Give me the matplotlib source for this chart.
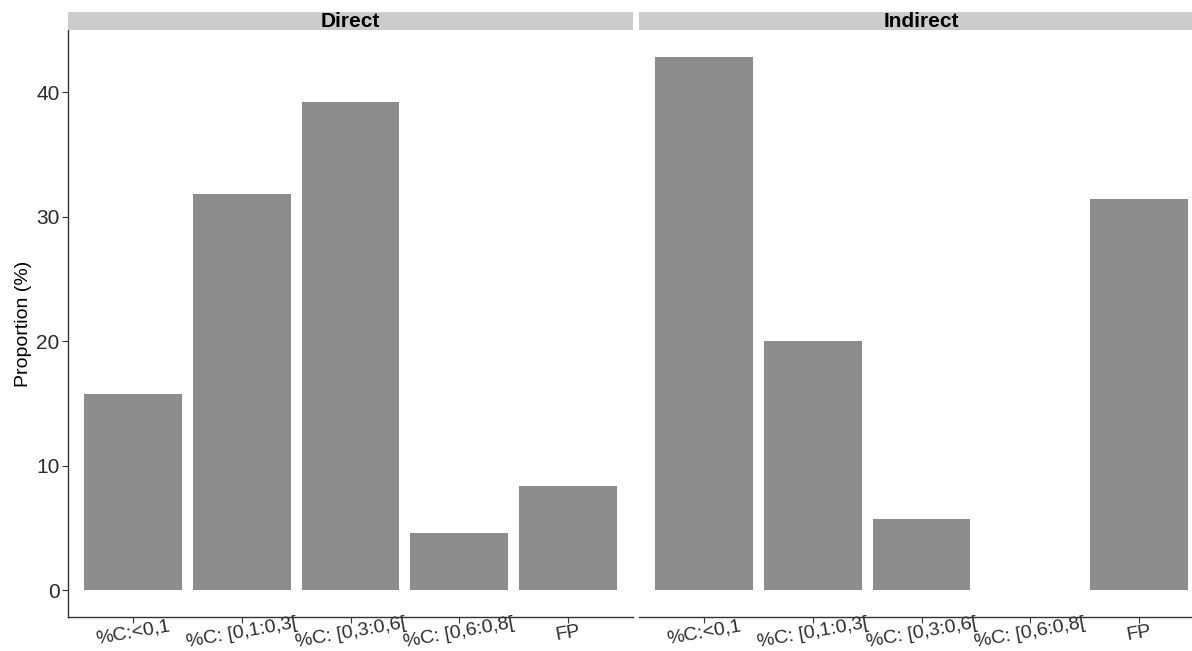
#!/usr/bin/env python3
# Barras de proporción por categoría, facetas Direct / Indirect
import matplotlib
matplotlib.use('Agg')
import matplotlib.pyplot as plt

plt.rcParams['font.family'] = ['Liberation Sans', 'DejaVu Sans']

categories = ['%C:<0,1', '%C: [0,1:0,3[', '%C: [0,3:0,6[', '%C: [0,6:0,8[', 'FP']
panels = ['Direct', 'Indirect']
direct_vals = [15.8, 31.8, 39.2, 4.6, 8.4]
indirect_vals = [42.86, 20.0, 5.71, 0.0, 31.43]

bar_col = '#8c8c8c'
strip_col = '#cccccc'
axis_col = '#333333'
text_col = '#2b2b2b'

fig = plt.figure(figsize=(11.92, 6.51), dpi=100)
W, H = 1192, 651

# posiciones en píxeles -> fracciones de figura
def px_axes(left, top, right, bottom):
    return [left / W, 1 - bottom / H, (right - left) / W, (bottom - top) / H]

ymax = max(max(direct_vals), max(indirect_vals))
ylim = (-0.05 * ymax, 1.05 * ymax)
x = list(range(1, len(categories) + 1))

axes = [fig.add_axes(px_axes(68, 30, 633, 617)),
        fig.add_axes(px_axes(639, 30, 1204, 617))]

for i, (ax, name, vals) in enumerate(zip(axes, panels, [direct_vals, indirect_vals])):
    ax.bar(x, vals, width=0.9, color=bar_col)
    ax.set_xlim(0.4, 5.6)
    ax.set_ylim(*ylim)
    ax.set_xticks(x)
    ax.set_xticklabels(categories, rotation=10, ha='center', va='center',
                       rotation_mode='anchor', fontsize=14, color=text_col)
    ax.set_yticks([0, 10, 20, 30, 40])
    ax.tick_params(axis='both', length=4, color=axis_col, width=0.8)
    ax.tick_params(axis='x', pad=7.5)
    ax.tick_params(axis='y', labelsize=15, labelcolor=text_col, pad=2)
    for s in ['top', 'right']:
        ax.spines[s].set_visible(False)
    for s in ['bottom', 'left']:
        ax.spines[s].set_color(axis_col)
        ax.spines[s].set_linewidth(1.0)
    if i == 1:
        ax.spines['left'].set_visible(False)
        ax.tick_params(axis='y', left=False, labelleft=False)
    else:
        ax.set_ylabel('Proportion (%)', fontsize=14, labelpad=3, color='black')

    # tira de faceta
    bb = ax.get_position()
    strip = fig.add_axes([bb.x0, bb.y1, bb.width, 18 / H])
    strip.set_facecolor(strip_col)
    strip.set_xticks([])
    strip.set_yticks([])
    for s in strip.spines.values():
        s.set_visible(False)
    strip.text(0.5, 0.45, name, ha='center', va='center', fontsize=15,
               fontweight='bold', transform=strip.transAxes)

fig.savefig('out.png', dpi=100)
